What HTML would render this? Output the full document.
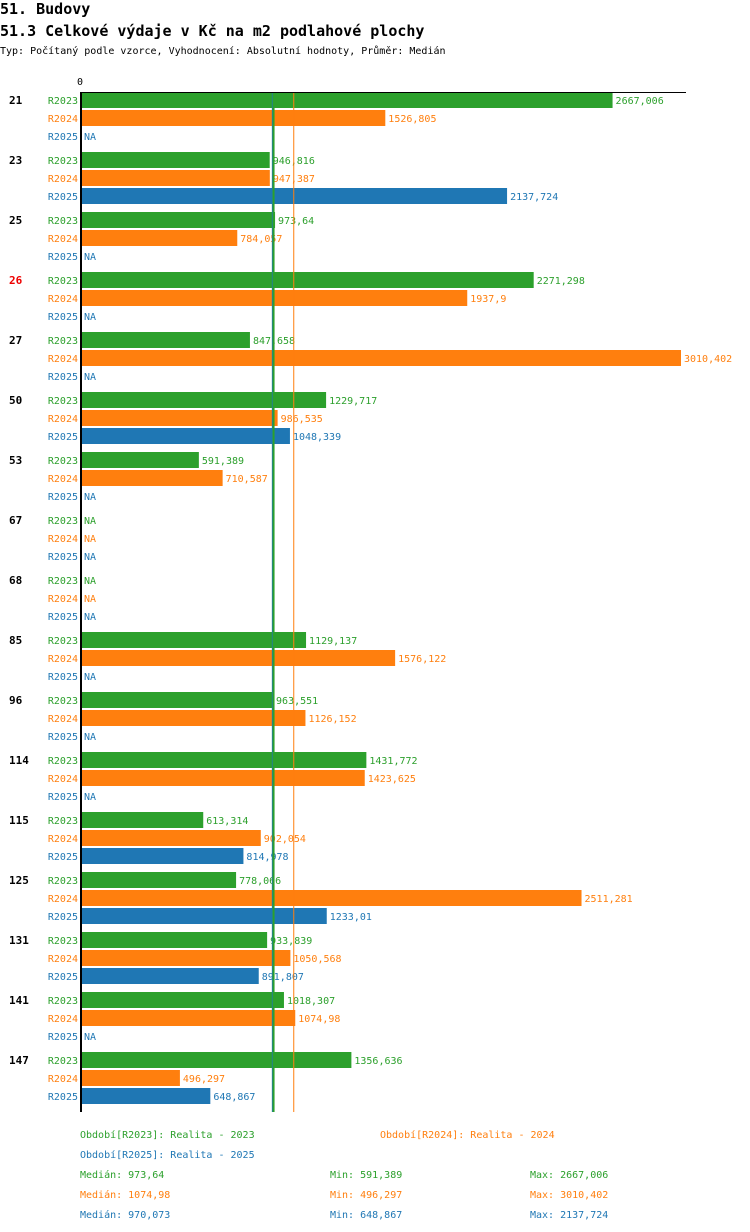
<!DOCTYPE html>
<html><head><meta charset="utf-8"><style>
body{margin:0;background:#fff;width:750px;height:1232px;overflow:hidden}
svg{display:block;font-family:"DejaVu Sans Mono","Liberation Mono",monospace}
</style></head><body>
<svg id="c" width="750" height="1232">
<text x="0" y="14" font-size="15" font-weight="bold" fill="#000">51. Budovy</text>
<text x="0" y="36" font-size="15" font-weight="bold" fill="#000">51.3 Celkové výdaje v Kč na m2 podlahové plochy</text>
<text x="0" y="54" font-size="10" fill="#000">Typ: Počítaný podle vzorce, Vyhodnocení: Absolutní hodnoty, Průměr: Medián</text>
<text x="77" y="85" font-size="10" fill="#000">0</text>
</svg>
<script>
const categories=["21","23","25","26","27","50","53","67","68","85","96","114","115","125","131","141","147"];
const highlighted=["26"];
const r2023=[2667.006,946.816,973.64,2271.298,847.658,1229.717,591.389,null,null,1129.137,963.551,1431.772,613.314,778.066,933.839,1018.307,1356.636];
const r2024=[1526.805,947.387,784.057,1937.9,3010.402,986.535,710.587,null,null,1576.122,1126.152,1423.625,902.054,2511.281,1050.568,1074.98,496.297];
const r2025=[null,2137.724,null,null,null,1048.339,null,null,null,null,null,null,814.978,1233.01,891.807,null,648.867];
const seriesNames=["R2023","R2024","R2025"];
const medians=[973.64,1074.98,970.073];
const mins=[591.389,496.297,648.867];
const maxs=[2667.006,3010.402,2137.724];
const colors=["#2ca02c","#ff7f0e","#1f77b4"];
const svg=document.getElementById('c');const NS="http://www.w3.org/2000/svg";
const X0=81,SC=600/3010.402,TOP=92,GH=60;
const xs=v=>X0+v*SC;
function el(t,a,txt){const e=document.createElementNS(NS,t);for(const k in a)e.setAttribute(k,a[k]);if(txt!=null)e.textContent=txt;svg.appendChild(e);return e;}
const fmt=v=>String(v).replace('.',',');
const data=[r2023,r2024,r2025];
categories.forEach((c,i)=>{
  const gy=TOP+i*GH;
  const t=el('text',{x:9,y:gy+12,'font-size':11,'font-weight':'bold',fill:highlighted.includes(c)?'#e00':'#000'},c);
  
  
  data.forEach((s,j)=>{
    const y=gy+j*18;const v=s[i];
    const l=el('text',{x:78,y:y+12,'font-size':10,fill:colors[j],'text-anchor':'end'},seriesNames[j]);
    
    
    if(v==null){
      const n=el('text',{x:84,y:y+12,'font-size':10,fill:colors[j]},'NA');
      
      
    }else{
      const r=el('rect',{x:X0,y:y,width:xs(v)-X0,height:16,fill:colors[j]});
      
      
      const vl=el('text',{x:xs(v)+3,y:y+12,'font-size':10,fill:colors[j]},fmt(v));
      
      
    }
  });
});
const bottom=TOP+categories.length*GH;
[2,0,1].forEach(j=>{
  const m=el('line',{x1:xs(medians[j])-1.5,x2:xs(medians[j])-1.5,y1:TOP,y2:bottom,stroke:colors[j],'stroke-width':j==1?1:2});
  
  
});
const ax=el('line',{x1:80,x2:686,y1:TOP+0.5,y2:TOP+0.5,stroke:'#000','stroke-width':1});


const ay=el('line',{x1:81,x2:81,y1:TOP,y2:bottom,stroke:'#000','stroke-width':2});


const leg=[[80,1138,0,"Období[R2023]: Realita - 2023"],[380,1138,1,"Období[R2024]: Realita - 2024"],[80,1158,2,"Období[R2025]: Realita - 2025"]];
leg.forEach(([x,y,j,t])=>{const e=el('text',{x,y,'font-size':10,fill:colors[j]},t);
  
  });
[0,1,2].forEach(j=>{const y=1178+j*20;
  const a=el('text',{x:80,y,'font-size':10,fill:colors[j]},'Medián: '+fmt(medians[j]));
  
  
  const b=el('text',{x:330,y,'font-size':10,fill:colors[j]},'Min: '+fmt(mins[j]));
  
  
  const d=el('text',{x:530,y,'font-size':10,fill:colors[j]},'Max: '+fmt(maxs[j]));
  
  });
</script>
</body></html>
